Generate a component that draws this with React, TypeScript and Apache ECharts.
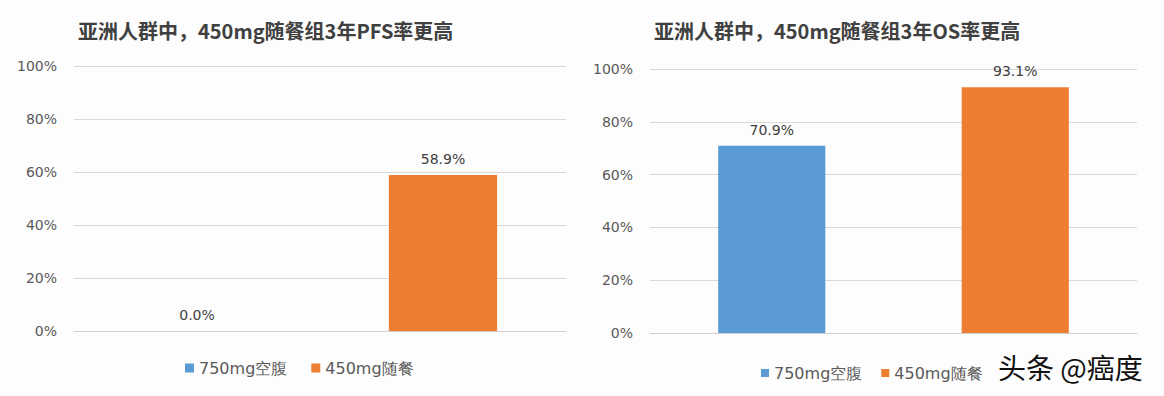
import React, { useEffect, useRef } from "react";
import * as echarts from "echarts";

const categories = ["750mg空腹", "450mg随餐"];
const seriesNames = ["750mg空腹", "450mg随餐"];
const pfsValues = [0.0, 58.9];
const osValues = [70.9, 93.1];
const yTicks = [0, 20, 40, 60, 80, 100];
const titles = ["亚洲人群中，450mg随餐组3年PFS率更高", "亚洲人群中，450mg随餐组3年OS率更高"];
const watermark = "头条 @癌度";

const colors = ["#5b9bd5", "#ed7d31"];

export default function App() {
  const ref = useRef<HTMLDivElement>(null);
  useEffect(() => {
    if (!ref.current) return;
    const chart = echarts.init(ref.current, null, { renderer: "svg" });
    const grids = [
      { left: 74, top: 66, width: 492, height: 265 },
      { left: 650, top: 69, width: 487, height: 264 },
    ];
    const datasets = [pfsValues, osValues];
    const series: any[] = [];
    datasets.forEach((vals, gi) => {
      seriesNames.forEach((name, si) => {
        series.push({
          type: "bar",
          name,
          xAxisIndex: gi,
          yAxisIndex: gi,
          barWidth: "44%",
          barGap: "-100%",
          itemStyle: { color: colors[si] },
          data: categories.map((_, ci) => (ci === si ? vals[ci] : "-")),
          label: {
            show: true,
            position: "top",
            distance: 9,
            color: "#404040",
            fontSize: 14,
            fontFamily: "DejaVu Sans",
            formatter: (p: any) => Number(p.value).toFixed(1) + "%",
          },
        });
      });
    });
    const tickMax = yTicks[yTicks.length - 1];
    const titleStyle = { fontSize: 20, fontWeight: "bold", color: "#404040", fontFamily: "Noto Sans CJK SC" };
    const legendBase = {
      data: seriesNames,
      itemWidth: 9,
      itemHeight: 9,
      itemGap: 24,
      icon: "rect",
      textStyle: { fontSize: 16, color: "#595959", fontFamily: "DejaVu Sans" },
    };
    chart.setOption({
      animation: false,
      backgroundColor: "#fdfdfd",
      title: [
        { text: titles[0], left: 73, top: 15, textStyle: titleStyle },
        { text: titles[1], left: 649, top: 15, textStyle: titleStyle },
      ],
      legend: [
        { ...legendBase, left: 180, top: 355 },
        { ...legendBase, left: 756, top: 360, itemGap: 19, itemWidth: 8, itemHeight: 8 },
      ],
      grid: grids,
      xAxis: grids.map((_, i) => ({
        type: "category",
        gridIndex: i,
        data: categories,
        axisLabel: { show: false },
        axisTick: { show: false },
        axisLine: { show: true, lineStyle: { color: "#d0d0d0", width: 1 } },
      })),
      yAxis: grids.map((_, i) => ({
        type: "value",
        gridIndex: i,
        min: 0,
        max: tickMax,
        interval: 20,
        axisLabel: {
          margin: 17,
          color: "#595959",
          fontSize: 14,
          fontFamily: "DejaVu Sans",
          formatter: (v: number) => v + "%",
        },
        axisLine: { show: false },
        axisTick: { show: false },
        splitLine: { lineStyle: { color: "#d9d9d9", width: 1 } },
      })),
      series,
      graphic: [
        {
          type: "text",
          left: 998,
          top: 353,
          style: {
            text: watermark,
            fontSize: 28,
            fill: "#111111",
            fontFamily: "Noto Sans CJK SC",
          },
        },
      ],
    });
    return () => chart.dispose();
  }, []);
  return (
    <div
      ref={ref}
      style={{ position: "fixed", left: 0, top: 0, width: 1164, height: 396 }}
    />
  );
}
